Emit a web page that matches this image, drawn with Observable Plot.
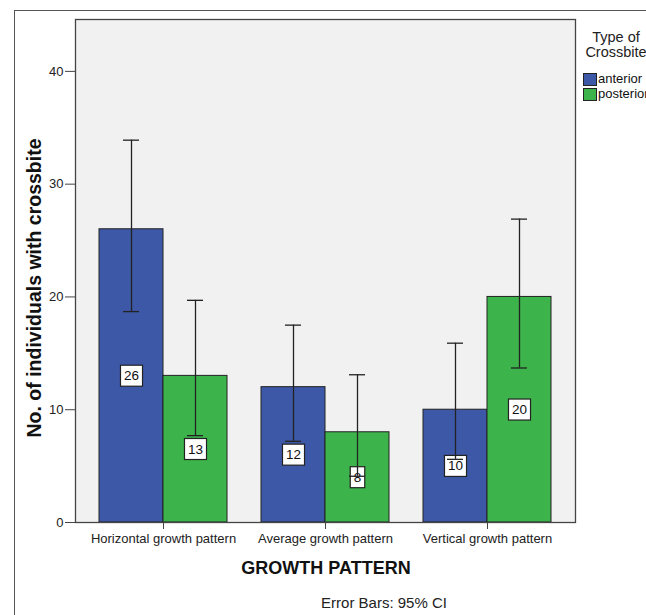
<!DOCTYPE html>
<html>
<head>
<meta charset="utf-8">
<script src="https://cdn.jsdelivr.net/npm/d3@7"></script>
<script src="https://cdn.jsdelivr.net/npm/@observablehq/plot@0.6"></script>
<style>
  body { margin: 0; background: #fff; font-family: "Liberation Sans", Arial, sans-serif; }
  #wrap { position: relative; width: 646px; height: 615px; overflow: hidden; }
  .abs { position: absolute; pointer-events: none; }
</style>
</head>
<body>
<div id="wrap"></div>
<script>
// ---- data ----
const categories = ["Horizontal growth pattern", "Average growth pattern", "Vertical growth pattern"];
const seriesNames = ["anterior", "posterior"];
const anterior = [26, 12, 10];
const posterior = [13, 8, 20];
const anteriorLow = [18.7, 7.2, 5.6];
const anteriorHigh = [33.9, 17.5, 15.9];
const posteriorLow = [7.7, 4.1, 13.7];
const posteriorHigh = [19.7, 13.1, 26.9];
const yTicks = [0, 10, 20, 30, 40];
const colors = ["#3e58a8", "#3cb44b"];

const rows = [];
categories.forEach((c, i) => {
  rows.push({cat: c, series: "anterior", value: anterior[i], lo: anteriorLow[i], hi: anteriorHigh[i]});
  rows.push({cat: c, series: "posterior", value: posterior[i], lo: posteriorLow[i], hi: posteriorHigh[i]});
});
const ant = rows.filter(d => d.series === "anterior");
const post = rows.filter(d => d.series === "posterior");

const bw = 64, cap = 16;
const sideMarks = (data, side, color) => {
  const off = side === "anterior" ? -bw / 2 : bw / 2;
  const bar = side === "anterior" ? {insetRight: bw} : {insetLeft: bw};
  const capIns = side === "anterior"
    ? {insetLeft: bw / 2 - cap / 2, insetRight: bw + bw / 2 - cap / 2}
    : {insetLeft: bw + bw / 2 - cap / 2, insetRight: bw / 2 - cap / 2};
  return {
    bar: Plot.barY(data, {x: "cat", y: "value", fill: color, stroke: "#222", strokeWidth: 1, ...bar}),
    label: Plot.text(data, {x: "cat", y: d => d.value / 2, text: d => String(d.value), dx: off,
      fontSize: 13.5, fill: "#111"}),
    rule: Plot.ruleX(data, {x: "cat", y1: "lo", y2: "hi", dx: off, stroke: "#222", strokeWidth: 1.3}),
    capHi: Plot.tickY(data, {x: "cat", y: "hi", stroke: "#222", strokeWidth: 1.3, ...capIns}),
    capLo: Plot.tickY(data, {x: "cat", y: "lo", stroke: "#222", strokeWidth: 1.3, ...capIns})
  };
};
const A = sideMarks(ant, "anterior", colors[0]);
const P = sideMarks(post, "posterior", colors[1]);

const chart = Plot.plot({
  width: 646,
  height: 615,
  marginLeft: 75,
  marginRight: 71,
  marginTop: 19,
  marginBottom: 93,
  style: {fontFamily: "'Liberation Sans', Arial, sans-serif", background: "transparent", color: "#222"},
  x: {type: "band", domain: categories, paddingInner: 0.21, paddingOuter: 0.148, label: null, axis: null},
  y: {domain: [0, 44.6], label: null, axis: null},
  marks: [
    Plot.frame({fill: "#f1f1f1", stroke: "none"}),
    A.bar, P.bar,
    A.label, P.label,
    A.rule, P.rule, A.capHi, P.capHi, A.capLo, P.capLo,
    Plot.frame({stroke: "#444", strokeWidth: 1.3}),
    Plot.axisY(yTicks, {tickSize: 10, tickPadding: 2, fontSize: 13, stroke: "#444", label: null}),
    Plot.axisX({tickSize: 7, tickPadding: 4, fontSize: 13, stroke: "#444", label: null})
  ]
});

const wrap = document.getElementById("wrap");
wrap.appendChild(chart);

// boxes behind value labels
const svg = d3.select(chart);
svg.selectAll('g[aria-label="text"] text').each(function () {
  const b = this.getBBox();
  const t = this.getAttribute("transform");
  const r = document.createElementNS("http://www.w3.org/2000/svg", "rect");
  r.setAttribute("x", b.x - 3.5);
  r.setAttribute("y", b.y - 3);
  r.setAttribute("width", b.width + 7);
  r.setAttribute("height", b.height + 6);
  r.setAttribute("fill", "#fff");
  r.setAttribute("stroke", "#222");
  r.setAttribute("stroke-width", "1.2");
  if (t) r.setAttribute("transform", t);
  this.parentNode.insertBefore(r, this);
});

// axis titles
svg.append("text")
  .attr("transform", "translate(34,288) rotate(-90)")
  .attr("text-anchor", "middle").attr("dy", "0.35em")
  .attr("font-size", 19.5).attr("font-weight", "bold").attr("fill", "#111")
  .text("No. of individuals with crossbite");
svg.append("text")
  .attr("x", 326).attr("y", 568)
  .attr("text-anchor", "middle").attr("dy", "0.35em")
  .attr("font-size", 18).attr("font-weight", "bold").attr("fill", "#111")
  .text("GROWTH PATTERN");
svg.append("text")
  .attr("x", 384).attr("y", 603)
  .attr("text-anchor", "middle").attr("dy", "0.35em")
  .attr("font-size", 15).attr("fill", "#222")
  .text("Error Bars: 95% CI");

// outer frame lines
const add = (css, html) => {
  const d = document.createElement("div");
  d.className = "abs";
  d.style.cssText = css;
  if (html) d.innerHTML = html;
  wrap.appendChild(d);
  return d;
};
add("left:14px;top:10px;width:1px;height:605px;background:#555;");
add("left:14px;top:10px;width:632px;height:1px;background:#555;");

// legend
add("left:576px;top:30px;width:80px;text-align:center;font-size:14.5px;line-height:15px;color:#222;", "Type of<br>Crossbite");
const legendTop = [73, 88];
seriesNames.forEach((s, i) => {
  add(`left:583px;top:${legendTop[i]}px;width:12px;height:11px;background:${colors[i]};border:1px solid #222;`);
  add(`left:598px;top:${legendTop[i] - 2}px;font-size:13px;line-height:15px;color:#111;white-space:nowrap;`, s);
});
</script>
</body>
</html>
